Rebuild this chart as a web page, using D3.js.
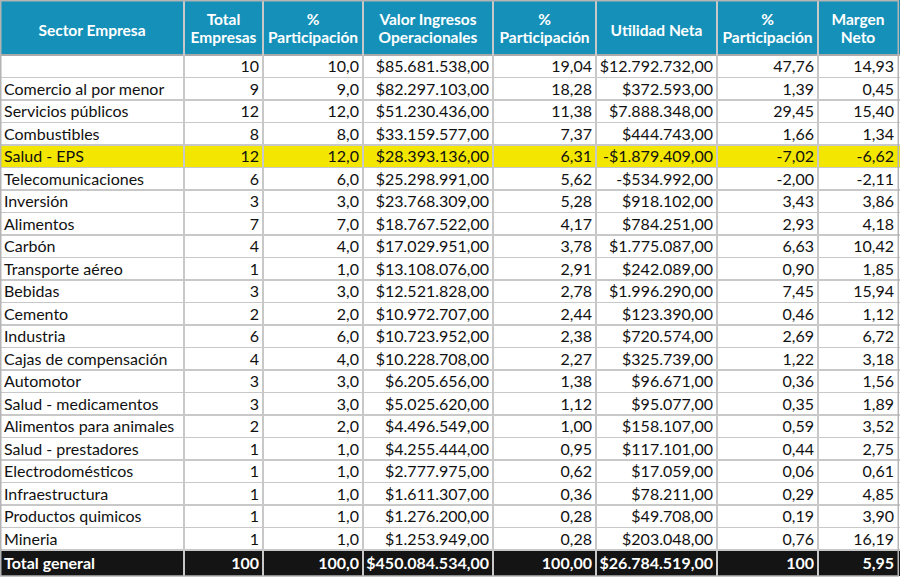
<!DOCTYPE html>
<html>
<head>
<meta charset="utf-8">
<script src="https://cdn.jsdelivr.net/npm/d3@7"></script>
<style>
  html, body { margin: 0; padding: 0; background: #fff; }
  svg { display: block; font-family: Lato, "Open Sans", sans-serif; }
</style>
</head>
<body>
<svg id="tabla" width="900" height="577"></svg>
<script>
var sectores = ["", "Comercio al por menor", "Servicios públicos", "Combustibles", "Salud - EPS",
  "Telecomunicaciones", "Inversión", "Alimentos", "Carbón", "Transporte aéreo", "Bebidas", "Cemento",
  "Industria", "Cajas de compensación", "Automotor", "Salud - medicamentos", "Alimentos para animales",
  "Salud - prestadores", "Electrodomésticos", "Infraestructura", "Productos quimicos", "Mineria"];
var totalEmpresas = [10, 9, 12, 8, 12, 6, 3, 7, 4, 1, 3, 2, 6, 4, 3, 3, 2, 1, 1, 1, 1, 1];
var pctEmpresas = [10.0, 9.0, 12.0, 8.0, 12.0, 6.0, 3.0, 7.0, 4.0, 1.0, 3.0, 2.0, 6.0, 4.0, 3.0, 3.0, 2.0, 1.0, 1.0, 1.0, 1.0, 1.0];
var ingresos = [85681538, 82297103, 51230436, 33159577, 28393136, 25298991, 23768309, 18767522, 17029951,
  13108076, 12521828, 10972707, 10723952, 10228708, 6205656, 5025620, 4496549, 4255444, 2777975,
  1611307, 1276200, 1253949];
var pctIngresos = [19.04, 18.28, 11.38, 7.37, 6.31, 5.62, 5.28, 4.17, 3.78, 2.91, 2.78, 2.44, 2.38, 2.27,
  1.38, 1.12, 1.00, 0.95, 0.62, 0.36, 0.28, 0.28];
var utilidad = [12792732, 372593, 7888348, 444743, -1879409, -534992, 918102, 784251, 1775087, 242089,
  1996290, 123390, 720574, 325739, 96671, 95077, 158107, 117101, 17059, 78211, 49708, 203048];
var pctUtilidad = [47.76, 1.39, 29.45, 1.66, -7.02, -2.00, 3.43, 2.93, 6.63, 0.90, 7.45, 0.46, 2.69, 1.22,
  0.36, 0.35, 0.59, 0.44, 0.06, 0.29, 0.19, 0.76];
var margenNeto = [14.93, 0.45, 15.40, 1.34, -6.62, -2.11, 3.86, 4.18, 10.42, 1.85, 15.94, 1.12, 6.72, 3.18,
  1.56, 1.89, 3.52, 2.75, 0.61, 4.85, 3.90, 16.19];
var encabezados = [["Sector Empresa"], ["Total", "Empresas"], ["%", "Participación"],
  ["Valor Ingresos", "Operacionales"], ["%", "Participación"], ["Utilidad Neta"], ["%", "Participación"],
  ["Margen", "Neto"]];
var totalGeneral = ["Total general", "100", "100,0", "$450.084.534,00", "100,00", "$26.784.519,00", "100", "5,95"];
var filaResaltada = "Salud - EPS";

var es = d3.formatLocale({ decimal: ",", thousands: ".", grouping: [3], currency: ["$", ""], minus: "-" });
var fEntero = es.format("d"), fUno = es.format(".1f"), fDos = es.format(".2f"), fPesos = es.format("$,.2f");

var filas = sectores.map(function (s, i) {
  return [s, fEntero(totalEmpresas[i]), fUno(pctEmpresas[i]), fPesos(ingresos[i]), fDos(pctIngresos[i]),
    fPesos(utilidad[i]), fDos(pctUtilidad[i]), fDos(margenNeto[i])];
});

var svg = d3.select("#tabla");
var width = +svg.attr("width");
var bordes = [0, 184, 263, 363, 493, 596, 717, 818, 898];
var headerH = 55, top0 = 55, bottom0 = 550, totalBottom = 576;

var y = d3.scaleBand().domain(d3.range(filas.length)).range([top0, bottom0]);
var x0 = function (c) { return bordes[c]; }, x1 = function (c) { return bordes[c + 1]; };

// encabezado
svg.append("rect").attr("x", 0).attr("y", 0).attr("width", width).attr("height", headerH).attr("fill", "#1591b9");

var hdr = svg.append("g").attr("fill", "#fff").attr("font-weight", "bold").attr("font-size", 15.5)
  .attr("text-anchor", "middle");
encabezados.forEach(function (lineas, c) {
  var cx = (x0(c) + x1(c)) / 2;
  var ys = lineas.length === 1 ? [36] : [24.5, 42.5];
  lineas.forEach(function (t, k) {
    hdr.append("text").attr("x", cx).attr("y", ys[k]).text(t);
  });
});

// filas de datos
var g = svg.append("g").attr("font-size", 16).attr("fill", "#111");
var row = g.selectAll("g.fila").data(filas).enter().append("g").attr("class", "fila");
row.append("rect")
  .attr("x", 0).attr("y", function (d, i) { return y(i); })
  .attr("width", width).attr("height", y.bandwidth())
  .attr("fill", function (d) { return d[0] === filaResaltada ? "#f3e600" : "#fff"; });
row.selectAll("text").data(function (d, i) { return d.map(function (v, c) { return { v: v, c: c, i: i }; }); })
  .enter().append("text")
  .attr("x", function (d) { return d.c === 0 ? x0(0) + 4 : x1(d.c) - 4; })
  .attr("y", function (d) { return y(d.i) + y.bandwidth() / 2 + 6.2; })
  .attr("text-anchor", function (d) { return d.c === 0 ? "start" : "end"; })
  .text(function (d) { return d.v; });

// fila de total
svg.append("rect").attr("x", 0).attr("y", bottom0).attr("width", width).attr("height", totalBottom - bottom0)
  .attr("fill", "#141414");
svg.append("g").attr("fill", "#fff").attr("font-weight", "bold").attr("font-size", 16)
  .selectAll("text").data(totalGeneral).enter().append("text")
  .attr("x", function (d, c) { return c === 0 ? x0(0) + 4 : x1(c) - 4; })
  .attr("y", (bottom0 + totalBottom) / 2 + 6)
  .attr("text-anchor", function (d, c) { return c === 0 ? "start" : "end"; })
  .text(function (d) { return d; });

// lineas de la cuadricula
var grid = svg.append("g").attr("stroke", "#c8c8c8").attr("stroke-width", 1.2).attr("shape-rendering", "crispEdges");
grid.selectAll("line.h").data(d3.range(1, filas.length + 1)).enter().append("line")
  .attr("x1", 0).attr("x2", width)
  .attr("y1", function (i) { return i < filas.length ? y(i) : bottom0; })
  .attr("y2", function (i) { return i < filas.length ? y(i) : bottom0; });
grid.append("line").attr("x1", 0).attr("x2", width).attr("y1", top0).attr("y2", top0).attr("stroke", "#aaa");
grid.selectAll("line.v").data(bordes.slice(1, -1)).enter().append("line")
  .attr("x1", function (d) { return d; }).attr("x2", function (d) { return d; })
  .attr("y1", 0).attr("y2", totalBottom);
svg.append("rect").attr("x", 0.75).attr("y", 0.75).attr("width", 897.5).attr("height", totalBottom - 0.75)
  .attr("fill", "none").attr("stroke", "#b4b4b4").attr("stroke-width", 1.5);
</script>
</body>
</html>
